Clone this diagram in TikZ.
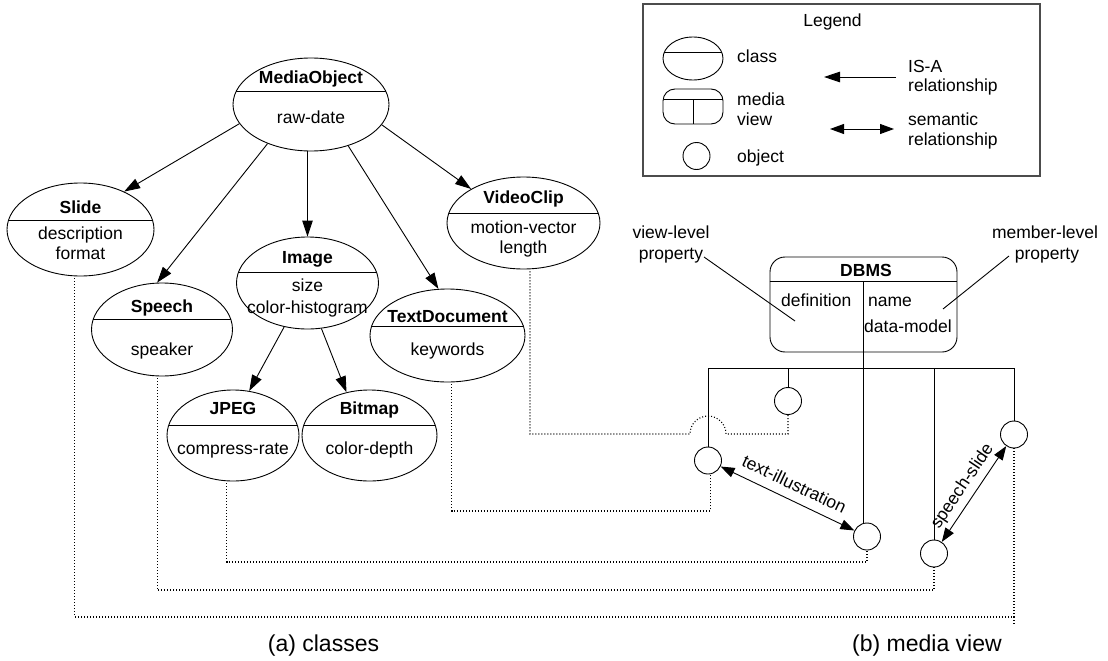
\documentclass[tikz,border=0pt]{standalone}
\usepackage{fontspec}
\setmainfont{Liberation Sans}
\usetikzlibrary{arrows.meta,shapes.geometric,calc}
\tikzset{
  lbl/.style={font=\fontsize{17.5}{20.5}\selectfont, inner sep=0pt, anchor=base},
  clstitle/.style={lbl, font=\fontsize{17.5}{20.5}\selectfont\bfseries},
  caplbl/.style={font=\fontsize{23}{27}\selectfont, inner sep=0pt, anchor=base},
  rellbl/.style={font=\fontsize{17.5}{20.5}\selectfont, inner sep=0pt},
  classell/.style={ellipse, draw, line width=0.9pt, inner sep=0pt},
  divline/.style={line width=0.9pt},
  solidln/.style={line width=0.9pt},
  objcirc/.style={circle, draw, line width=0.9pt, minimum size=27pt, inner sep=0pt},
  isa/.style={line width=0.9pt, -{Triangle[length=16pt,width=10.5pt]}},
  sem/.style={line width=0.9pt, {Triangle[length=14pt,width=10pt]}-{Triangle[length=14pt,width=10pt]}},
  mapline/.style={line width=1.1pt, dash pattern=on 1pt off 2pt, shorten <=2pt},
}
\newcommand\clsnode[8]{%
  \node[classell, minimum width={2*#4pt}, minimum height={2*#5pt}] (#1) at (#2,#3) {};
  \pgfmathsetmacro\halfw{#4*sqrt(1-((#6-#3)/#5)^2)}
  \draw[divline] ({#2-\halfw},#6) -- ({#2+\halfw},#6);
  \node[clstitle] (#1-t) at (#2,#8) {#7};
}
\begin{document}
\begin{tikzpicture}[x=1pt,y=-1pt]
\useasboundingbox (0,0) rectangle (1108,661);
\fill[white] (0,0) rectangle (1108,661);

% ---------- classes ----------
\clsnode{MO}{311}{104.5}{78}{46.5}{91}{MediaObject}{83}
\node[lbl] (MO-b) at (311,123) {raw-date};

\clsnode{Slide}{80.5}{229.5}{73.5}{46.5}{220}{Slide}{213}
\node[lbl] (Slide-b1) at (80.5,239) {description};
\node[lbl] (Slide-b2) at (80.5,259) {format};

\clsnode{Speech}{162}{329.5}{70.5}{46.5}{319}{Speech}{312}
\node[lbl] (Speech-b) at (162,355) {speaker};

\clsnode{Image}{307.5}{283}{71}{46}{272}{Image}{263}
\node[lbl] (Image-b1) at (307.5,291) {size};
\node[lbl] (Image-b2) at (307.5,313) {color-histogram};

\clsnode{TextDoc}{447.5}{335.5}{77.5}{46.5}{326}{TextDocument}{322}
\node[lbl] (TextDoc-b) at (447.5,355) {keywords};

\clsnode{Video}{523.5}{223}{76.5}{46}{213}{VideoClip}{203}
\node[lbl] (Video-b1) at (523.5,233) {motion-vector};
\node[lbl] (Video-b2) at (523.5,253) {length};

\clsnode{JPEG}{233}{435.5}{66}{45.5}{425}{JPEG}{414}
\node[lbl] (JPEG-b) at (233,454) {compress-rate};

\clsnode{Bitmap}{369.5}{435.5}{67.5}{45.5}{425}{Bitmap}{414}
\node[lbl] (Bitmap-b) at (369.5,454) {color-depth};

% IS-A arrows
\draw[isa] (MO.195) -- (Slide.41);
\draw[isa] (MO.222.6) -- (Speech.96);
\draw[isa] (MO.south -| Image.north) -- (Image.north);
\draw[isa] (MO.312.4) -- (TextDoc.101.4);
\draw[isa] (MO.344) -- (Video.147.4);
\draw[isa] (Image.242) -- (JPEG.70.6);
\draw[isa] (Image.287.3) -- (Bitmap.118.8);

% ---------- legend ----------
\node[draw=black!70, line width=1.2pt, minimum width=397pt, minimum height=172pt, inner sep=0pt] (legend) at (841.5,90) {};
\node[lbl] (lgTitle) at (832.5,27) {Legend};
\node[classell, minimum width=60pt, minimum height=43pt] (lgClass) at (693,58.5) {};
\draw[divline] (664.4,52) -- (721.6,52);
\node[lbl, anchor=base west] (lgClassT) at (737,63) {class};
\node[draw, line width=0.9pt, rounded corners=12pt, minimum width=60pt, minimum height=35pt, inner sep=0pt] (lgView) at (693,106.5) {};
\draw[divline] (663.5,99) -- (722.5,99);
\draw[divline] (693,99) -- (lgView.south);
\node[lbl, anchor=base west] (lgViewT1) at (737,105) {media};
\node[lbl, anchor=base west] (lgViewT2) at (737,125) {view};
\node[objcirc] (lgObj) at (696.5,156) {};
\node[lbl, anchor=base west] (lgObjT) at (737,162) {object};
\coordinate (isaS) at (896,77);
\coordinate (isaE) at (824,77);
\draw[isa] (isaS) -- (isaE);
\node[lbl, anchor=base west] (lgIsa1) at (908,72) {IS-A};
\node[lbl, anchor=base west] (lgIsa2) at (908,91.5) {relationship};
\coordinate (semS) at (830,129);
\coordinate (semE) at (894,129);
\draw[sem] (semS) -- (semE);
\node[lbl, anchor=base west] (lgSem1) at (908,125) {semantic};
\node[lbl, anchor=base west] (lgSem2) at (908,145) {relationship};

% ---------- media view ----------
\node[draw, line width=0.9pt, rounded corners=15pt, minimum width=187pt, minimum height=95pt, inner sep=0pt] (DBMS) at (863.5,304.5) {};
\coordinate (dby) at (0,281);
\draw[divline] (DBMS.west |- dby) -- (DBMS.east |- dby);
\node[clstitle] (DBMS-t) at (866,276) {DBMS};
\node[lbl, anchor=base west] (DBMS-d) at (781,306) {definition};
\node[lbl, anchor=base west] (DBMS-n) at (868,306) {name};
\node[lbl, anchor=base west] (DBMS-m) at (864,332) {data-model};

\node[objcirc] (c1) at (708,460.5) {};
\node[objcirc] (c2) at (788,401) {};
\node[objcirc] (c3) at (867,536.5) {};
\node[objcirc] (c4) at (934,553.5) {};
\node[objcirc] (c5) at (1014,434.5) {};

\coordinate (dv) at (863,281);
\coordinate (bus) at (0,368);
\draw[solidln] (dv) -- (dv |- c3.north);
\draw[solidln] (c1.north) |- (c5.north |- bus) -- (c5.north);
\draw[solidln] (c2.north |- bus) -- (c2.north);
\draw[solidln] (c4.north |- bus) -- (c4.north);

\draw[sem] (c1) -- (c3) node[midway, sloped, rellbl, above=9pt] {text-illustration};
\draw[sem] (c4) -- (c5) node[midway, sloped, rellbl, above=5pt] {speech-slide};

% annotations
\node[lbl] (vl1) at (671,238) {view-level};
\node[lbl] (vl2) at (671,259) {property};
\coordinate (vlS) at (704,257);
\coordinate (vlE) at (795,321);
\draw[solidln] (vlS) -- (vlE);
\node[lbl] (ml1) at (1045,238) {member-level};
\node[lbl] (ml2) at (1047,259) {property};
\coordinate (mlS) at (1009,256);
\coordinate (mlE) at (943,309);
\draw[solidln] (mlS) -- (mlE);

% ---------- mapping (dotted) lines ----------
\coordinate (lvV) at (0,434);
\coordinate (lvT) at (0,511);
\coordinate (lvJ) at (0,562);
\coordinate (lvS) at (0,590);
\coordinate (lvL) at (0,617);
\draw[mapline] (Video.278) -- (Video.278 |- lvV) -- ($(c1 |- lvV)+(-18,0)$)
  arc[start angle=180, end angle=0, radius=18pt] -- (c2.south |- lvV) -- (c2.south);
\draw[mapline] (TextDoc.275.5) -- (TextDoc.275.5 |- lvT) -- (c1.280 |- lvT) -- (c1.280);
\draw[mapline] (JPEG.262.5) -- (JPEG.262.5 |- lvJ) -- (c3.south |- lvJ) -- (c3.south);
\draw[mapline] (Speech.264) -- (Speech.264 |- lvS) -- (c4.south |- lvS) -- (c4.south);
\draw[mapline] (Slide.263.2) -- (Slide.263.2 |- lvL) -- (c5.south |- lvL) -- (c5.south);
\draw[mapline, shorten <=0pt] (c5.south |- lvL) -- ++(0,9);

% captions
\node[caplbl] (capA) at (323.5,651) {(a) classes};
\node[caplbl] (capB) at (927,651) {(b) media view};
\end{tikzpicture}
\end{document}
